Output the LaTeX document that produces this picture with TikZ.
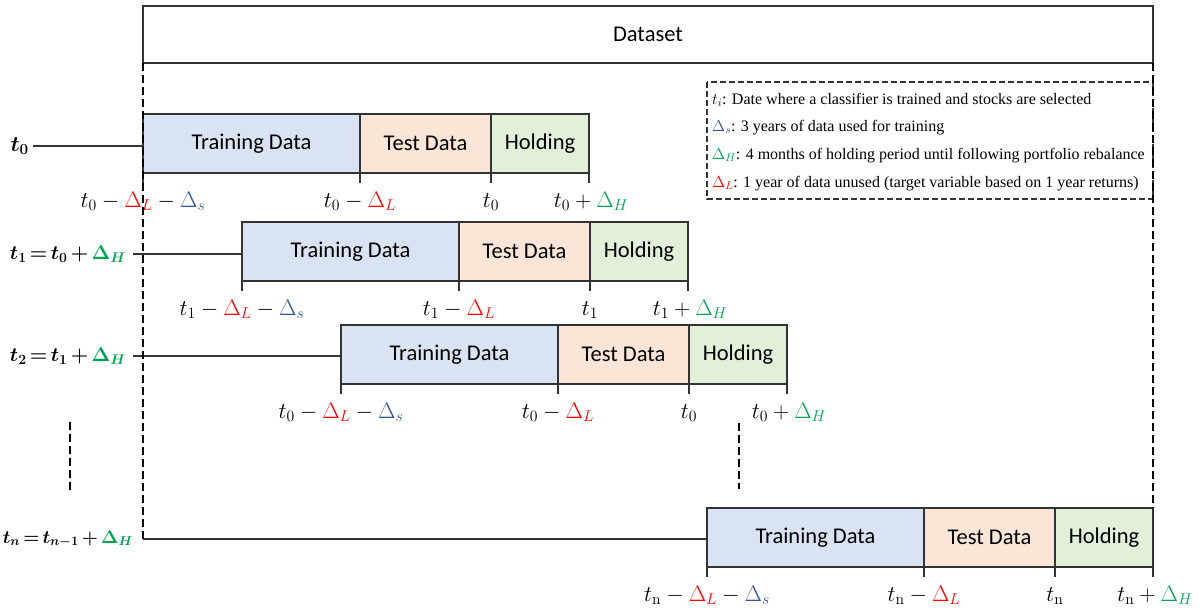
\RequirePackage{fix-cm}
\documentclass[tikz,border=0pt]{standalone}
\usepackage{bm}
\usepackage[no-math]{fontspec}
\setmainfont{Carlito}
\newfontfamily\legendfont{Liberation Serif}
\usetikzlibrary{calc}

\definecolor{trainfill}{HTML}{DAE3F3}
\definecolor{testfill}{HTML}{FBE5D6}
\definecolor{holdfill}{HTML}{E2F0D9}
\definecolor{dLcol}{HTML}{FF0000}
\definecolor{dScol}{HTML}{2F5597}
\definecolor{dHcol}{HTML}{00A550}
\definecolor{edge}{HTML}{333333}

\newcommand{\dLm}{\textcolor{dLcol}{\Delta_L}}
\newcommand{\dSm}{\textcolor{dScol}{\Delta_s}}
\newcommand{\dHm}{\textcolor{dHcol}{\Delta_H}}
\newcommand{\dHb}{\textcolor{dHcol}{\bm{\Delta_H}}}

\tikzset{
  seg/.style={draw=edge, line width=1.3pt, minimum height=59pt, inner sep=0pt,
    outer sep=0pt, anchor=north west, font=\fontsize{22.5}{26}\selectfont},
  trainbox/.style={seg, fill=trainfill, minimum width=217pt},
  testbox/.style={seg, fill=testfill, minimum width=131pt},
  holdbox/.style={seg, fill=holdfill, minimum width=98pt},
  tickmark/.style={draw=edge, line width=1.1pt},
  ticklabel/.style={anchor=base, inner sep=0pt, font=\fontsize{22.5}{26}\selectfont},
  rowlabel/.style={anchor=east, inner sep=0pt, font=\fontsize{20}{24}\selectfont},
  rowline/.style={draw=edge, line width=1.2pt},
  guide/.style={draw=black, line width=1.2pt, dash pattern=on 8pt off 4pt},
  legendline/.style={draw=edge, line width=1.1pt, dash pattern=on 6pt off 3pt},
  legenditem/.style={anchor=base west, inner sep=0pt,
    font=\legendfont\fontsize{16}{19}\selectfont},
}

\begin{document}
\begin{tikzpicture}[x=1pt, y=-1pt]
\useasboundingbox (0,0) rectangle (1203,611);

% dataset header
\node[draw=edge, line width=1.3pt, minimum width=1010pt, minimum height=57pt,
  inner sep=0pt, outer sep=0pt, anchor=north west,
  font=\fontsize{22.5}{26}\selectfont] (data) at (143,6) {Dataset};

% legend
\draw[legendline] (707,82) rectangle (1153,199);
\node[legenditem] (leg1) at (712,104) {$t_i$: Date where a classifier is trained and stocks are selected};
\node[legenditem] (leg2) at (712,131) {$\dSm$: 3 years of data used for training};
\node[legenditem] (leg3) at (712,159) {$\dHm$: 4 months of holding period until following portfolio rebalance};
\node[legenditem] (leg4) at (712,187) {$\dLm$: 1 year of data unused (target variable based on 1 year returns)};

% row 0
\node[trainbox] (tr0) at (143,114) {Training Data};
\node[testbox]  (te0) at (tr0.north east) {Test Data};
\node[holdbox]  (ho0) at (te0.north east) {Holding};
% row 1
\node[trainbox] (tr1) at (242,222) {Training Data};
\node[testbox]  (te1) at (tr1.north east) {Test Data};
\node[holdbox]  (ho1) at (te1.north east) {Holding};
% row 2
\node[trainbox] (tr2) at (341,325) {Training Data};
\node[testbox]  (te2) at (tr2.north east) {Test Data};
\node[holdbox]  (ho2) at (te2.north east) {Holding};
% row n
\node[trainbox] (trn) at (707,508) {Training Data};
\node[testbox]  (ten) at (trn.north east) {Test Data};
\node[holdbox]  (hon) at (ten.north east) {Holding};

% ticks under each row
\foreach \r in {0,1,2,n}{
  \draw[tickmark] (tr\r.south west) -- ++(0,10);
  \draw[tickmark] (te\r.south west) -- ++(0,10);
  \draw[tickmark] (ho\r.south west) -- ++(0,10);
  \draw[tickmark] (ho\r.south east) -- ++(0,10);
}

% tick labels
\node[ticklabel] (a0) at ($(tr0.south west)+(0,34)$) {$t_0 - \dLm - \dSm$};
\node[ticklabel] (b0) at ($(te0.south west)+(0,34)$) {$t_0 - \dLm$};
\node[ticklabel] (c0) at ($(ho0.south west)+(0,34)$) {$t_0$};
\node[ticklabel] (d0) at ($(ho0.south east)+(2,34)$) {$t_0 + \dHm$};

\node[ticklabel] (a1) at ($(tr1.south west)+(0,34)$) {$t_1 - \dLm - \dSm$};
\node[ticklabel] (b1) at ($(te1.south west)+(0,34)$) {$t_1 - \dLm$};
\node[ticklabel] (c1) at ($(ho1.south west)+(0,34)$) {$t_1$};
\node[ticklabel] (d1) at ($(ho1.south east)+(2,34)$) {$t_1 + \dHm$};

\node[ticklabel] (a2) at ($(tr2.south west)+(0,34)$) {$t_0 - \dLm - \dSm$};
\node[ticklabel] (b2) at ($(te2.south west)+(0,34)$) {$t_0 - \dLm$};
\node[ticklabel] (c2) at ($(ho2.south west)+(0,34)$) {$t_0$};
\node[ticklabel] (d2) at ($(ho2.south east)+(2,34)$) {$t_0 + \dHm$};

\node[ticklabel] (an) at ($(trn.south west)+(0,34)$) {$t_\mathrm{n} - \dLm - \dSm$};
\node[ticklabel] (bn) at ($(ten.south west)+(0,34)$) {$t_\mathrm{n} - \dLm$};
\node[ticklabel] (cn) at ($(hon.south west)+(0,34)$) {$t_\mathrm{n}$};
\node[ticklabel] (dn) at ($(hon.south east)+(2,34)$) {$t_\mathrm{n} + \dHm$};

% row labels and their lines
\node[rowlabel, font=\fontsize{22}{24}\selectfont] (l0) at (29,146) {$\bm{t_0}$};
\node[rowlabel] (l1) at (126,254)
  {$\thickmuskip=3mu\medmuskip=3mu\bm{t_1 = t_0 +} \dHb$};
\node[rowlabel] (l2) at (126,356)
  {$\thickmuskip=3mu\medmuskip=3mu\bm{t_2 = t_1 +} \dHb$};
\node[rowlabel, font=\fontsize{18.5}{22}\selectfont] (ln) at (133,539)
  {$\thickmuskip=3mu\medmuskip=3mu\bm{t_n = t_{n-1} +} \dHb$};

\draw[rowline] ($(l0.east)+(4,0)$) -- (l0.east -| tr0.west);
\draw[rowline] ($(l1.east)+(7,0)$) -- (l1.east -| tr1.west);
\draw[rowline] ($(l2.east)+(7,0)$) -- (l2.east -| tr2.west);
\draw[rowline] (ln.east -| data.west) -- (ln.east -| trn.west);

% dashed guides of the dataset span
\draw[guide] (data.south west) -- (ln.east -| data.west);
\draw[guide] (data.south east) -- (hon.north east);

% vertical ellipsis marks
\draw[guide, line width=1.3pt] (70,422) -- (70,490);
\draw[guide, line width=1.3pt] (739,423) -- (739,489);
\end{tikzpicture}
\end{document}
